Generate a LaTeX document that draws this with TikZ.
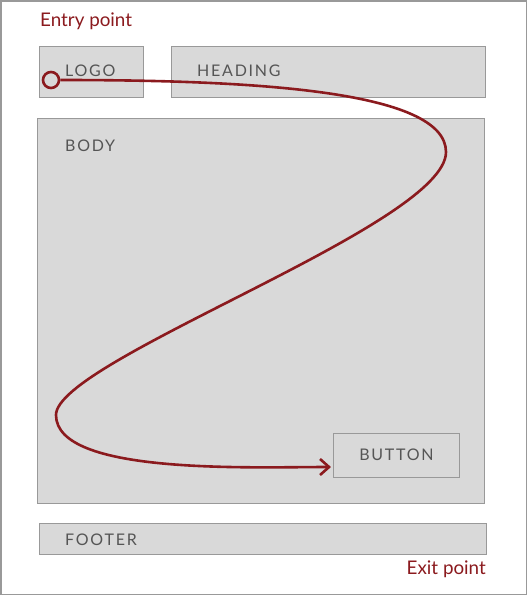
\documentclass[tikz,border=0pt]{standalone}
\usepackage{fontspec}
\setmainfont{Lato}
\newfontfamily\capsfont[LetterSpace=11]{Lato}
\usetikzlibrary{arrows.meta}

\definecolor{boxfill}{HTML}{D9D9D9}
\definecolor{boxline}{HTML}{999999}
\definecolor{pathred}{HTML}{8B1A1E}
\definecolor{txtgray}{HTML}{555555}

\tikzset{
  region/.style={draw=boxline, fill=boxfill, line width=1pt, anchor=north west, inner sep=0pt},
  lbl/.style={anchor=west, inner sep=0pt, text=txtgray, font=\capsfont\fontsize{16}{18}\selectfont},
  note/.style={inner sep=0pt, text=pathred, font=\fontsize{18.8}{20}\selectfont},
  flow/.style={draw=pathred, line width=2.6pt}
}

\begin{document}
\begin{tikzpicture}[x=1pt, y=-1pt]
    \useasboundingbox (0,0) rectangle (527,595);
    \draw[boxline, line width=1.5pt] (0.75,0.75) rectangle (526.25,594.25);

    % page regions
    \node[region, minimum width=104pt, minimum height=51pt] (logo) at (39,46) {};
    \node[region, minimum width=314pt, minimum height=51pt] (heading) at (171,46) {};
    \node[region, minimum width=447pt, minimum height=385pt] (body) at (37,118) {};
    \node[region, minimum width=126pt, minimum height=44pt] (button) at (333,433) {};
    \node[region, minimum width=447pt, minimum height=31pt] (footer) at (39,523) {};

    \node[lbl] (logotxt) at (65,71) {LOGO};
    \node[lbl] (headingtxt) at (197,71) {HEADING};
    \node[lbl] (bodytxt) at (65,146) {BODY};
    \node[lbl, anchor=center] (buttontxt) at ([yshift=1pt]button.center) {BUTTON};
    \node[lbl] (footertxt) at (65,540) {FOOTER};

    \node[note, anchor=west] (entry) at (40,21.5) {Entry point};
    \node[note, anchor=east] (exit) at (486,569.5) {Exit point};

    % reading path
    \node[circle, draw=pathred, line width=2.6pt, minimum size=16pt, inner sep=0pt] (start) at (51,80) {};
    \coordinate (turnright) at (446,152);
    \coordinate (turnleft) at (56,415);
    \draw[flow, -{Straight Barb[length=9pt, width=16pt]}] (start.east)
        .. controls (250,80) and (446,90) .. (turnright)
        .. controls (446,225) and (56,360) .. (turnleft)
        .. controls (56,475) and (250,467) .. ([xshift=-2pt]button.west |- 0,467);
\end{tikzpicture}
\end{document}
